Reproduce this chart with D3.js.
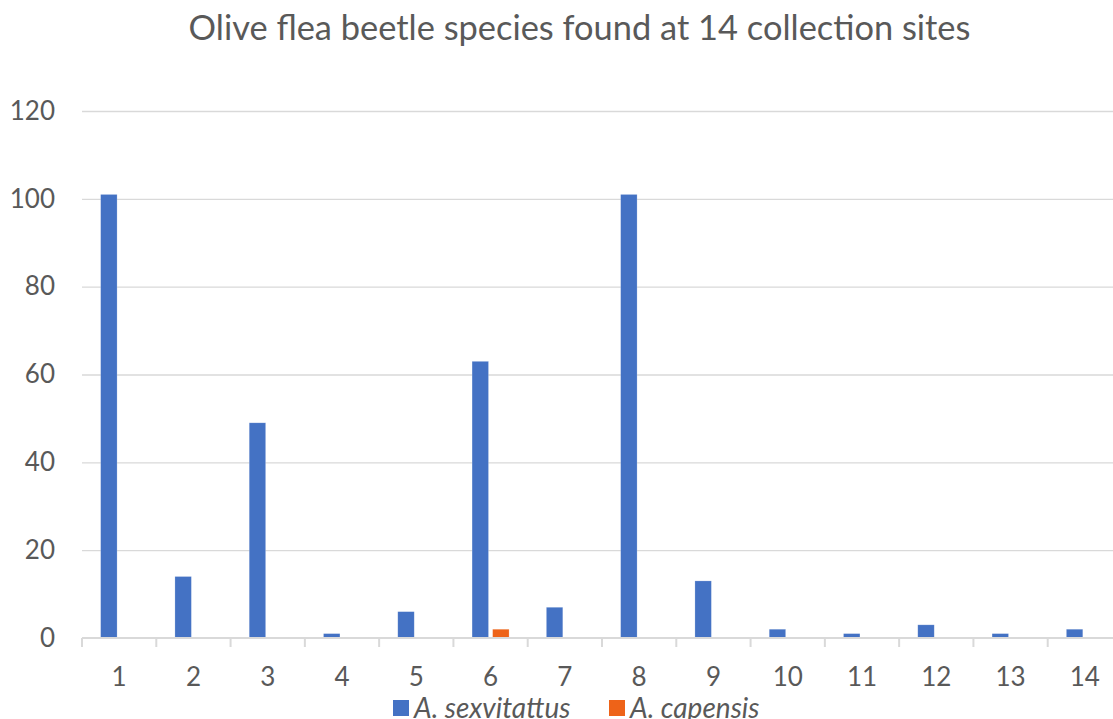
<!DOCTYPE html>
<html>
<head>
<meta charset="utf-8">
<script src="https://cdn.jsdelivr.net/npm/d3@7"></script>
<style>
  html, body { margin: 0; padding: 0; background: #fff; overflow: hidden; }
  svg { display: block; font-family: Lato, "Open Sans", sans-serif; }
</style>
</head>
<body>
<svg id="chart" width="1113" height="719"></svg>
<script>
// Collection sites and beetle counts per species
const sites = ["1","2","3","4","5","6","7","8","9","10","11","12","13","14"];
const sexvitattus = [101, 14, 49, 1, 6, 63, 7, 101, 13, 2, 1, 3, 1, 2];
const capensis    = [0, 0, 0, 0, 0, 2, 0, 0, 0, 0, 0, 0, 0, 0];
const seriesNames = ["A. sexvitattus", "A. capensis"];
const seriesColors = ["#4472C4", "#EE6318"];
const yTicks = [0, 20, 40, 60, 80, 100, 120];
const titleText = "Olive flea beetle species found at 14 collection sites";

(function draw() {
  const svg = d3.select("#chart");
  const textColor = "#595959";
  const gridColor = "#d9d9d9";

  // plot area (extends a little past the right edge of the window)
  const plotLeft = 82, plotRight = 1122, plotTop = 111, plotBottom = 638;

  const x = d3.scaleBand().domain(sites).range([plotLeft, plotRight]).padding(0);
  const clusterW = 37;
  const xs = d3.scaleBand().domain(seriesNames)
    .range([(x.bandwidth() - clusterW) / 2, (x.bandwidth() + clusterW) / 2])
    .paddingInner(0.2);
  const y = d3.scaleLinear().domain([0, 120]).range([plotBottom, plotTop]);

  // title, sized to span its measured width
  const title = svg.append("text")
    .attr("x", 579.5).attr("y", 40)
    .attr("text-anchor", "middle")
    .attr("fill", textColor)
    .style("font-size", "28px")
    .text(titleText);
  const tw = title.node().getComputedTextLength();
  title.style("font-size", (28 * 782 / tw).toFixed(2) + "px");

  // horizontal gridlines + y labels
  const yAxis = d3.axisLeft(y).tickValues(yTicks).tickSize(-(plotRight - plotLeft)).tickPadding(27);
  const gy = svg.append("g").attr("transform", `translate(${plotLeft},0)`).call(yAxis);
  gy.select(".domain").remove();
  gy.selectAll(".tick line").attr("stroke", gridColor).attr("stroke-width", 1.3)
    .filter(d => d === 0).remove();
  gy.selectAll(".tick text").attr("fill", textColor)
    .style("font-size", "26px").style("font-family", "Lato, 'Open Sans', sans-serif");

  // bars
  const data = sites.map((s, i) => ({ site: s, values: [sexvitattus[i], capensis[i]] }));
  const groups = svg.append("g").selectAll("g").data(data).join("g")
    .attr("transform", d => `translate(${x(d.site)},0)`);
  groups.selectAll("rect")
    .data(d => d.values.map((v, k) => ({ name: seriesNames[k], v, k })))
    .join("rect")
    .attr("x", d => xs(d.name))
    .attr("width", xs.bandwidth())
    .attr("y", d => y(d.v))
    .attr("height", d => y(0) - y(d.v))
    .attr("fill", d => seriesColors[d.k])
    .attr("stroke", "#fff").attr("stroke-opacity", 0.35).attr("stroke-width", 0.6);

  // x axis with ticks at band boundaries
  const gx = svg.append("g").attr("transform", `translate(0,${plotBottom})`);
  gx.append("line").attr("x1", plotLeft).attr("x2", plotRight)
    .attr("stroke", gridColor).attr("stroke-width", 2);
  const boundaries = d3.range(sites.length + 1).map(i => plotLeft + i * x.step());
  gx.selectAll("line.tk").data(boundaries).join("line").attr("class", "tk")
    .attr("x1", d => d).attr("x2", d => d).attr("y1", 0).attr("y2", 9)
    .attr("stroke", gridColor).attr("stroke-width", 2);
  gx.selectAll("text").data(sites).join("text")
    .attr("x", d => x(d) + x.bandwidth() / 2)
    .attr("y", 48)
    .attr("text-anchor", "middle")
    .attr("fill", textColor)
    .style("font-size", "26px")
    .text(d => d);

  // legend along the bottom edge
  const legendX = [393, 609];
  const lg = svg.append("g").selectAll("g").data(seriesNames).join("g")
    .attr("transform", (d, i) => `translate(${legendX[i]},700)`);
  lg.append("rect").attr("width", 16).attr("height", 16)
    .attr("fill", (d, i) => seriesColors[i]);
  lg.append("text").attr("x", 21).attr("y", 18)
    .attr("fill", textColor)
    .style("font-size", "28px").style("font-style", "italic")
    .text(d => d);
})();
</script>
</body>
</html>
